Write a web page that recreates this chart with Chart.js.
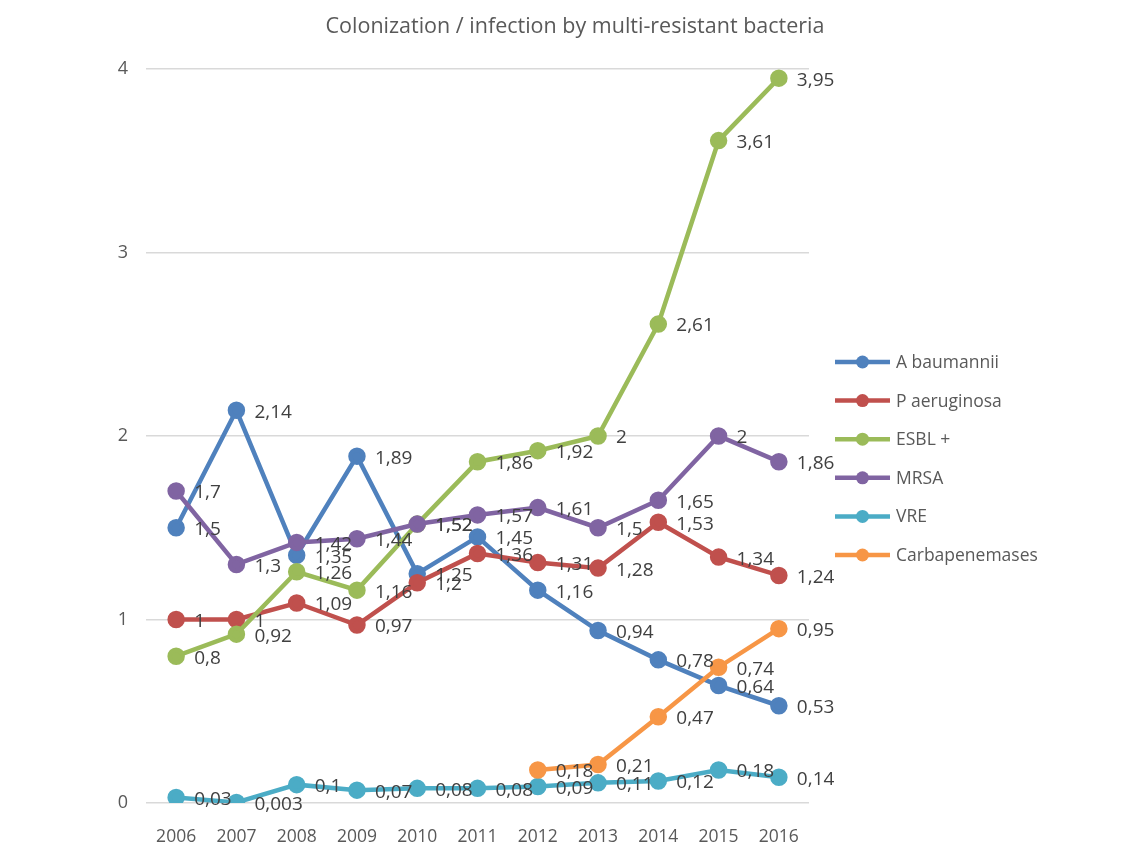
<!DOCTYPE html>
<html>
<head>
<meta charset="utf-8">
<script src="https://cdn.jsdelivr.net/npm/chart.js@4.4.1/dist/chart.umd.min.js"></script>
<style>
  html, body { margin: 0; padding: 0; background: #fff; }
  #wrap { width: 1138px; height: 847px; }
</style>
</head>
<body>
<div id="wrap"><canvas id="lineChart"></canvas></div>
<script>
'use strict'

var chartTitle = 'Colonization / infection by multi-resistant bacteria';
var years = ['2006', '2007', '2008', '2009', '2010', '2011', '2012', '2013', '2014', '2015', '2016'];
var aBaumannii = [1.5, 2.14, 1.35, 1.89, 1.25, 1.45, 1.16, 0.94, 0.78, 0.64, 0.53];
var pAeruginosa = [1, 1, 1.09, 0.97, 1.2, 1.36, 1.31, 1.28, 1.53, 1.34, 1.24];
var esbl = [0.8, 0.92, 1.26, 1.16, 1.52, 1.86, 1.92, 2, 2.61, 3.61, 3.95];
var mrsa = [1.7, 1.3, 1.42, 1.44, 1.52, 1.57, 1.61, 1.5, 1.65, 2, 1.86];
var vre = [0.03, 0.003, 0.1, 0.07, 0.08, 0.08, 0.09, 0.11, 0.12, 0.18, 0.14];
var carbapenemases = [null, null, null, null, null, null, 0.18, 0.21, 0.47, 0.74, 0.95];
var yTicks = [0, 1, 2, 3, 4];

var FONT = '"Open Sans", "Noto Sans", sans-serif';
var TEXT = '#595959';

function serie(name, data, color, idx) {
	return {
		label: name,
		data: data,
		borderColor: color,
		backgroundColor: color,
		pointBackgroundColor: color,
		pointBorderColor: color,
		borderWidth: 4.5,
		pointRadius: 6.5,
		pointHoverRadius: 6.5,
		tension: 0,
		order: 10 - idx  // later series on top, like excel
	};
}

// value labels right of each point
var valueLabels = {
	id: 'valueLabels',
	afterDatasetsDraw: function(chart) {
		var ctx = chart.ctx;
		ctx.save();
		ctx.font = '19px ' + FONT;
		ctx.fillStyle = '#404040';
		ctx.textAlign = 'left';
		ctx.textBaseline = 'middle';
		chart.data.datasets.forEach(function(ds, i) {
			var meta = chart.getDatasetMeta(i);
			meta.data.forEach(function(pt, j) {
				var v = ds.data[j];
				if (v === null || v === undefined) return;
				ctx.fillText(String(v).replace('.', ','), pt.x + 18, pt.y + 2);
			});
		});
		ctx.restore();
	}
};

// title + excel style legend (line with dot)
var decorations = {
	id: 'decorations',
	afterDraw: function(chart) {
		var ctx = chart.ctx;
		ctx.save();
		ctx.font = '21.5px ' + FONT;
		ctx.fillStyle = TEXT;
		ctx.textAlign = 'center';
		ctx.textBaseline = 'middle';
		ctx.fillText(chartTitle, 575, 27);

		var x0 = chart.chartArea.right + 26;
		var y0 = 362;
		ctx.font = '17.5px ' + FONT;
		ctx.textAlign = 'left';
		chart.data.datasets.forEach(function(ds, i) {
			var y = y0 + i * 38.6;
			ctx.strokeStyle = ds.borderColor;
			ctx.lineWidth = 4.5;
			ctx.beginPath();
			ctx.moveTo(x0, y);
			ctx.lineTo(x0 + 55, y);
			ctx.stroke();
			ctx.fillStyle = ds.borderColor;
			ctx.beginPath();
			ctx.arc(x0 + 27.5, y, 6.5, 0, Math.PI * 2);
			ctx.fill();
			ctx.fillStyle = TEXT;
			ctx.fillText(ds.label, x0 + 61, y + 1);
		});
		ctx.restore();
	}
};

var ctx = document.getElementById('lineChart');
var myChart = new Chart(ctx, {
	type: 'line',
	data: {
		labels: years,
		datasets: [
			serie('A baumannii', aBaumannii, '#4F81BD', 0),
			serie('P aeruginosa', pAeruginosa, '#C0504D', 1),
			serie('ESBL +', esbl, '#9BBB59', 2),
			serie('MRSA', mrsa, '#8064A2', 3),
			serie('VRE', vre, '#4BACC6', 4),
			serie('Carbapenemases', carbapenemases, '#F79646', 5)
		]
	},
	options: {
		responsive: true,
		maintainAspectRatio: false,
		animation: false,
		layout: {
			padding: { left: 100, right: 329, top: 69, bottom: 0 }
		},
		plugins: {
			legend: { display: false },
			tooltip: { enabled: false },
			title: { display: false }
		},
		scales: {
			x: {
				offset: true,
				afterFit: function(axis) { axis.height = 44; },
				grid: { display: false, drawTicks: false },
				border: { display: false },
				ticks: {
					color: TEXT,
					padding: 24,
					maxRotation: 0,
					font: { family: FONT, size: 17.5 }
				}
			},
			y: {
				min: 0,
				max: 4,
				afterBuildTicks: function(axis) {
					axis.ticks = yTicks.map(function(v) { return { value: v }; });
				},
				afterFit: function(axis) { axis.width = 46; },
				grid: { color: '#d9d9d9', lineWidth: 1.5, drawTicks: false },
				border: { display: false },
				ticks: {
					color: TEXT,
					padding: 18,
					font: { family: FONT, size: 18 }
				}
			}
		}
	},
	plugins: [valueLabels, decorations]
});
</script>
</body>
</html>
